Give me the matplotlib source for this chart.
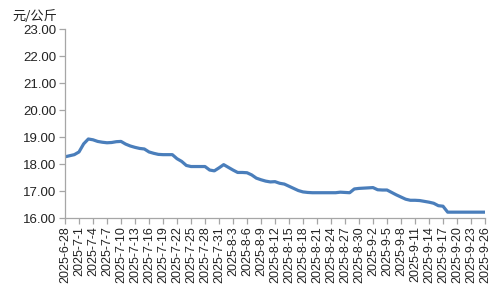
import datetime
import matplotlib
matplotlib.use("Agg")
import matplotlib.pyplot as plt
import matplotlib.dates as mdates
from matplotlib.ticker import FormatStrFormatter

# daily price, 2025-6-28 .. 2025-9-26 (yuan/kg)
start = datetime.date(2025, 6, 28)
prices = [
    18.27, 18.31, 18.35, 18.45, 18.75, 18.93, 18.90, 18.84, 18.81, 18.79,
    18.80, 18.83, 18.84, 18.74, 18.67, 18.62, 18.58, 18.56, 18.45, 18.40,
    18.36, 18.35, 18.35, 18.35, 18.20, 18.10, 17.95, 17.91, 17.91, 17.91,
    17.91, 17.78, 17.75, 17.86, 17.98, 17.88, 17.78, 17.69, 17.69, 17.68,
    17.60, 17.48, 17.42, 17.37, 17.34, 17.35, 17.29, 17.26, 17.18, 17.10,
    17.02, 16.97, 16.95, 16.94, 16.94, 16.94, 16.94, 16.94, 16.94, 16.96,
    16.95, 16.94, 17.08, 17.10, 17.11, 17.12, 17.13, 17.05, 17.04, 17.04,
    16.95, 16.86, 16.78, 16.70, 16.66, 16.66, 16.65, 16.62, 16.59, 16.55,
    16.46, 16.44, 16.22, 16.22, 16.22, 16.22, 16.22, 16.22, 16.22, 16.22,
    16.22,
]
dates = [start + datetime.timedelta(days=i) for i in range(len(prices))]
tick_dates = dates[::3]
tick_labels = ["{}-{}-{}".format(d.year, d.month, d.day) for d in tick_dates]

fig = plt.figure(figsize=(5, 3), dpi=100)
ax = fig.add_axes([0.13, 0.273, 0.84, 0.63])

ax.plot(dates, prices, color="#4a7ebb", linewidth=2.3, solid_capstyle="round")

ax.set_xlim(dates[0], dates[-1])
ax.set_ylim(16, 23)
ax.set_yticks(range(16, 24))
ax.yaxis.set_major_formatter(FormatStrFormatter("%.2f"))
ax.set_xticks(tick_dates)
ax.set_xticklabels(tick_labels, rotation=90, fontsize=9, family="Liberation Sans")
for lab in ax.get_yticklabels():
    lab.set_fontsize(9.5)
    lab.set_family("Liberation Sans")

for s in ["top", "right"]:
    ax.spines[s].set_visible(False)
for s in ["left", "bottom"]:
    ax.spines[s].set_color("#a6a6a6")
    ax.spines[s].set_linewidth(0.9)
ax.tick_params(axis="both", direction="out", length=4, width=0.9,
               color="#a6a6a6", labelcolor="#222222", pad=2)

fig.text(0.024, 0.935, "元/公斤", fontsize=9.5, color="#222222",
         family=["Noto Sans CJK SC", "DejaVu Sans"])

fig.savefig("out.png", dpi=100)
